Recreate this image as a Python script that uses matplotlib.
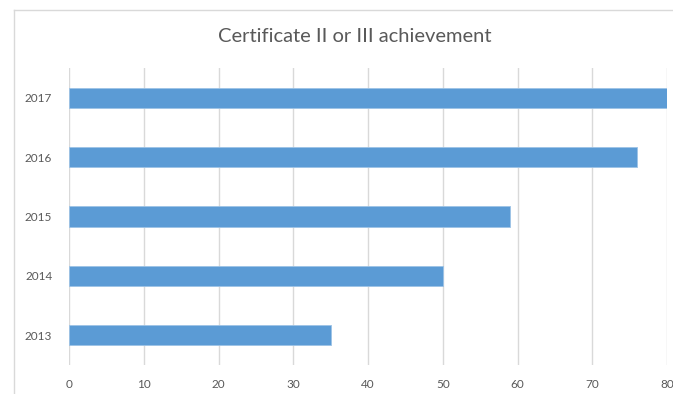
import matplotlib
matplotlib.use("Agg")
import matplotlib.pyplot as plt
from matplotlib.lines import Line2D

years = ["2013", "2014", "2015", "2016", "2017"]
values = [35, 50, 59, 76, 80]
x_ticks = [0, 10, 20, 30, 40, 50, 60, 70, 80]

plt.rcParams["font.family"] = ["Lato", "DejaVu Sans"]

W, H = 673, 394
fig = plt.figure(figsize=(W / 100, H / 100), dpi=100)
ax = fig.add_axes([69 / W, 1 - 365 / H, (667 - 69) / W, (365 - 68) / H])

ax.barh(range(len(years)), values, height=0.34, color="#5B9BD5",
        edgecolor="#9DC3E6", linewidth=0.6, zorder=3)

ax.set_xlim(0, 80)
ax.set_ylim(-0.5, len(years) - 0.5)
ax.set_xticks(x_ticks)
ax.set_xticklabels([str(t) for t in x_ticks])
ax.set_yticks(range(len(years)))
ax.set_yticklabels(years)
ax.grid(axis="x", color="#D9D9D9", linewidth=1.0, zorder=0)
ax.tick_params(axis="both", length=0, labelsize=8.5, colors="#595959", pad=10)
ax.tick_params(axis="y", pad=12)
for s in ax.spines.values():
    s.set_visible(False)

fig.text(355 / W, 1 - 37 / H, "Certificate II or III achievement",
         ha="center", va="center", fontsize=14.5, color="#595959")

# chart area border (top and left edges)
fig.add_artist(Line2D([14 / W, 14 / W], [0, 1 - 10 / H], transform=fig.transFigure,
                      color="#D9D9D9", linewidth=1.0))
fig.add_artist(Line2D([14 / W, 1], [1 - 10 / H, 1 - 10 / H], transform=fig.transFigure,
                      color="#D9D9D9", linewidth=1.0))

fig.savefig("out.png", dpi=100)
